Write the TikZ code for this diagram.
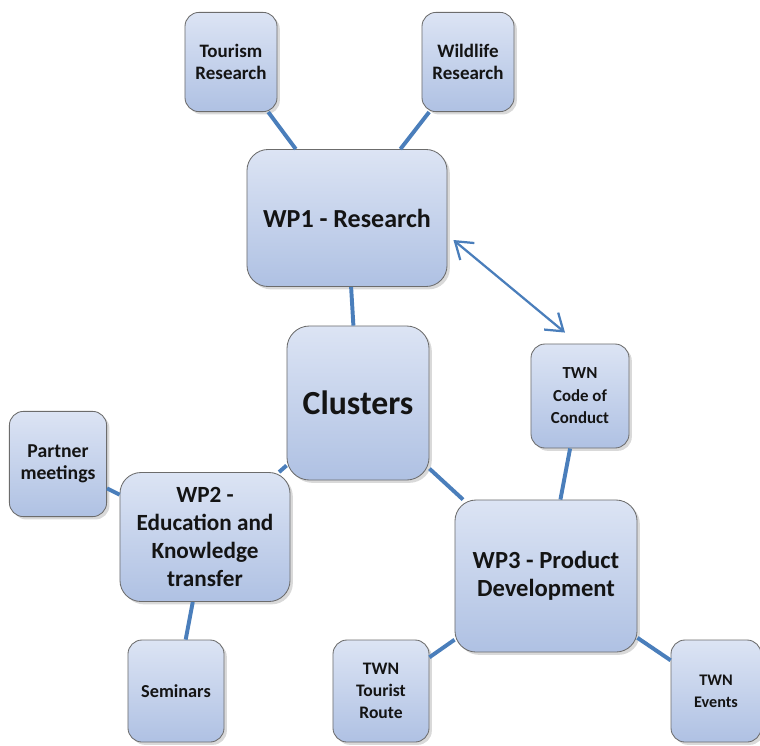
\documentclass[tikz,border=0pt]{standalone}
\usepackage{fontspec}
\setmainfont{Carlito}
\usetikzlibrary{shadows, arrows.meta}

\definecolor{boxtop}{HTML}{DCE4F4}
\definecolor{boxbot}{HTML}{AFC1E3}
\definecolor{linkblue}{HTML}{4A7EBB}

\begin{document}
\begin{tikzpicture}[x=0.025cm, y=-0.025cm,
    wp/.style={draw=gray!85!black, line width=0.6pt, rounded corners=15pt,
      top color=boxtop, bottom color=boxbot,
      drop shadow={opacity=0.3, shadow xshift=2pt, shadow yshift=-2pt},
      align=center, text=black!92, inner sep=3pt},
    task/.style={wp, rounded corners=10pt, minimum width=2.4cm, minimum height=2.55cm},
    link/.style={draw=linkblue, line width=2.8pt},
    twoway/.style={draw=linkblue, line width=1.6pt,
      >={Straight Barb[length=4mm, width=5.5mm]}, <->}]
  \useasboundingbox (0,0) rectangle (760,745);

  % work packages
  \node[wp, minimum width=5cm, minimum height=3.425cm,
    font=\bfseries\fontsize{18.5}{20}\selectfont] (wp1) at (347,218) {WP1 - Research};
  \node[wp, rounded corners=16pt, minimum width=3.55cm, minimum height=3.85cm,
    font=\bfseries\fontsize{24}{26}\selectfont] (clusters) at (358,403) {Clusters};
  \node[wp, minimum width=4.25cm, minimum height=3.225cm,
    font=\bfseries\fontsize{16.5}{20}\selectfont] (wp2) at (205,537)
    {WP2 -\\Education and\\Knowledge\\transfer};
  \node[wp, minimum width=4.55cm, minimum height=3.8cm,
    font=\bfseries\fontsize{17.5}{20}\selectfont] (wp3) at (546,576)
    {WP3 - Product\\Development};

  % tasks
  \node[task, minimum width=2.3cm, minimum height=2.48cm,
    font=\bfseries\fontsize{13.5}{15.5}\selectfont] (tourism) at (231,62) {Tourism\\Research};
  \node[task, minimum width=2.3cm, minimum height=2.48cm,
    font=\bfseries\fontsize{13.5}{15.5}\selectfont] (wildlife) at (468,62) {Wildlife\\Research};
  \node[task, minimum width=2.45cm, minimum height=2.6cm,
    font=\bfseries\fontsize{12}{16}\selectfont] (code) at (580,396) {TWN\\Code of\\Conduct};
  \node[task, minimum width=2.43cm, minimum height=2.63cm,
    font=\bfseries\fontsize{14}{15.5}\selectfont] (partner) at (58,464) {Partner\\meetings};
  \node[task, font=\bfseries\fontsize{13}{15.5}\selectfont] (seminars) at (176,691) {Seminars};
  \node[task, font=\bfseries\fontsize{12.5}{15.5}\selectfont] (route) at (381,691) {TWN\\Tourist\\Route};
  \node[task, minimum width=2.25cm, font=\bfseries\fontsize{11.5}{15.5}\selectfont] (events) at (716,691) {TWN\\Events};

  \path[link]
    (tourism) edge (wp1)
    (wildlife) edge (wp1)
    (wp1) edge (clusters)
    (clusters) edge (wp2)
              edge (wp3)
    (code) edge (wp3)
    (partner) edge (wp2)
    (wp2) edge (seminars)
    (wp3) edge (route)
          edge (events);

  \draw[twoway] ([shift={(6,22)}]wp1.east) -- ([shift={(-15,-11)}]code.north);
\end{tikzpicture}
\end{document}
